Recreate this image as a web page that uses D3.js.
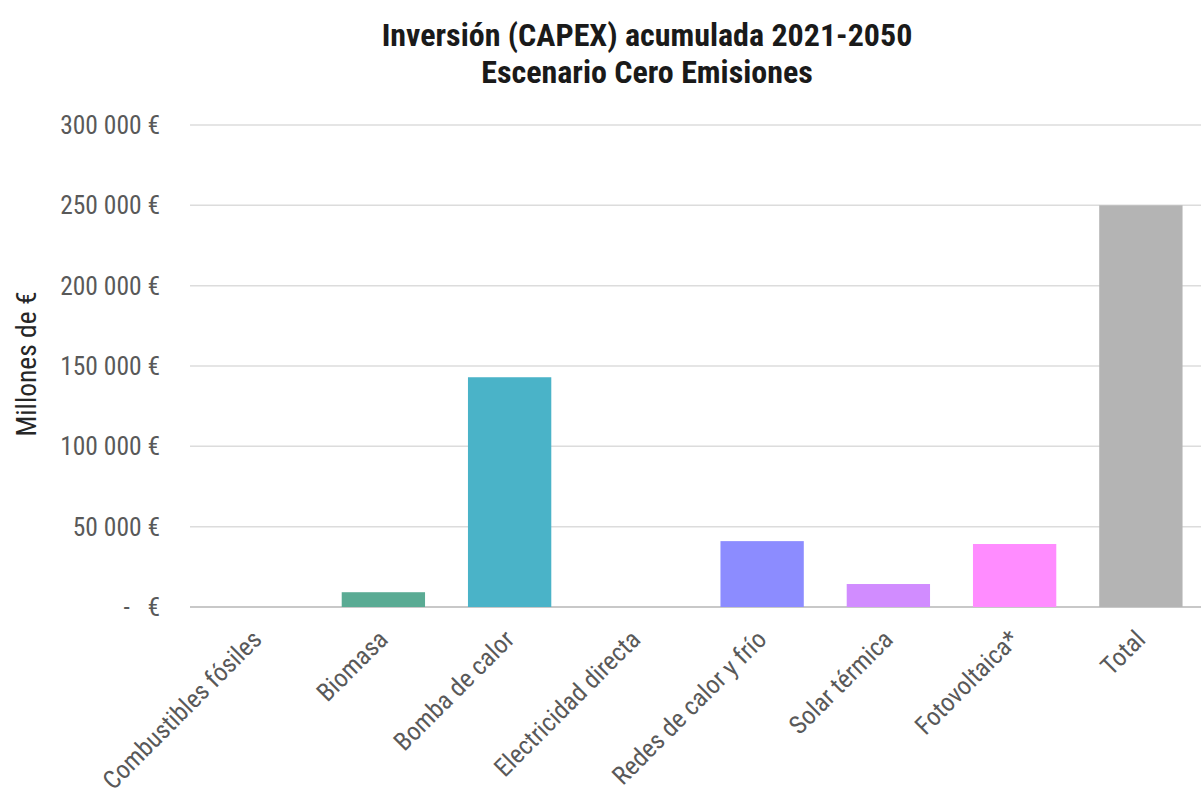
<!DOCTYPE html>
<html>
<head>
<meta charset="utf-8">
<script src="https://cdn.jsdelivr.net/npm/d3@7"></script>
<style>
  html, body { margin: 0; padding: 0; background: #fff; }
  svg { display: block; }
  text { font-family: "Roboto Condensed", "Liberation Sans Narrow", "Roboto", sans-serif; }
</style>
</head>
<body>
<svg id="chart" width="1201" height="798"></svg>
<script>
// Cumulative CAPEX 2021-2050, zero-emissions scenario (millions of €)
const categories = [
  "Combustibles fósiles", "Biomasa", "Bomba de calor", "Electricidad directa",
  "Redes de calor y frío", "Solar térmica", "Fotovoltaica*", "Total"
];
const values = [0, 9200, 143000, 0, 41000, 14300, 39200, 250000];
const colors = ["#5aab94", "#5aab94", "#4ab3c8", "#4ab3c8", "#8c8cff", "#d18cff", "#ff8cff", "#b4b4b4"];
const yTicks = [0, 50000, 100000, 150000, 200000, 250000, 300000];
const titleLines = ["Inversión (CAPEX) acumulada 2021-2050", "Escenario Cero Emisiones"];
const yAxisTitle = "Millones de €";

const svg = d3.select("#chart");

const x = d3.scaleBand()
  .domain(categories)
  .range([194, 1204])
  .paddingInner(0.34)
  .paddingOuter(0.17);

const y = d3.scaleLinear().domain([0, 300000]).range([607, 125]);

const fmt = v => v === 0 ? "-   €" : d3.format(",")(v).replace(/,/g, " ") + " €";

// Horizontal gridlines
svg.append("g")
  .selectAll("line")
  .data(yTicks)
  .join("line")
  .attr("x1", 190).attr("x2", 1201)
  .attr("y1", d => y(d)).attr("y2", d => y(d))
  .attr("stroke", d => d === 0 ? "#c8c8c8" : "#dcdcdc")
  .attr("stroke-width", d => d === 0 ? 2 : 1.5);

// Y tick labels
svg.append("g")
  .selectAll("text")
  .data(yTicks)
  .join("text")
  .attr("x", 160)
  .attr("y", d => y(d))
  .attr("dy", "0.35em")
  .attr("text-anchor", "end")
  .attr("fill", "#595959")
  .attr("font-size", 25.5)
  .style("white-space", "pre")
  .text(fmt);

// Bars
svg.append("g")
  .selectAll("rect")
  .data(categories.map((c, i) => ({ c, v: values[i], col: colors[i] })))
  .join("rect")
  .attr("x", d => x(d.c))
  .attr("width", x.bandwidth())
  .attr("y", d => y(d.v))
  .attr("height", d => y(0) - y(d.v))
  .attr("fill", d => d.col);

// Category labels, rotated
svg.append("g")
  .selectAll("text")
  .data(categories)
  .join("text")
  .attr("transform", d => `translate(${x(d) + x.bandwidth() / 2 + 6},${641}) rotate(-45)`)
  .attr("text-anchor", "end")
  .attr("fill", "#595959")
  .attr("font-size", 25.5)
  .text(d => d);

// Y axis title
svg.append("text")
  .attr("transform", "translate(36,364) rotate(-90)")
  .attr("text-anchor", "middle")
  .attr("fill", "#262626")
  .attr("font-size", 27.5)
  .text(yAxisTitle);

// Chart title
svg.append("g")
  .selectAll("text")
  .data(titleLines)
  .join("text")
  .attr("x", 647)
  .attr("y", (d, i) => 46 + i * 37)
  .attr("text-anchor", "middle")
  .attr("fill", "#1a1a1a")
  .attr("font-size", 32)
  .attr("font-weight", "bold")
  .text(d => d);
</script>
</body>
</html>
